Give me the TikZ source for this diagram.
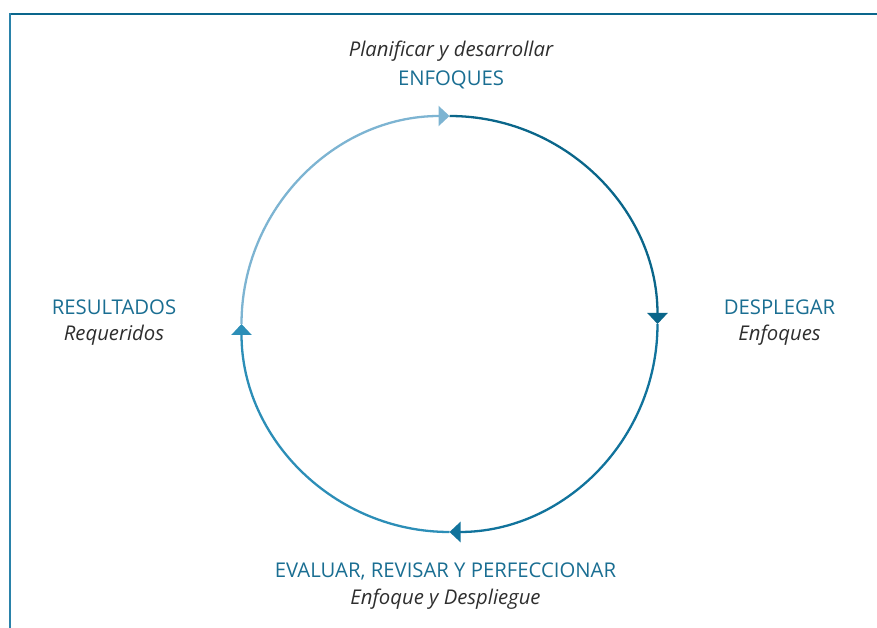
\documentclass[tikz,border=0pt]{standalone}
\usepackage{fontspec}
\setmainfont{Open Sans}
\usetikzlibrary{arrows.meta}
\definecolor{capblue}{HTML}{1A6E92}
\definecolor{txtgray}{HTML}{2E2E2E}
\definecolor{arcA}{HTML}{0A668A}
\definecolor{arcB}{HTML}{11739C}
\definecolor{arcC}{HTML}{2C8EB7}
\definecolor{arcD}{HTML}{7DB4D2}
\definecolor{framedark}{HTML}{0A668C}
\definecolor{frameleft}{HTML}{2A82AA}
\tikzset{
  captext/.style={anchor=base, text=capblue, font=\fontsize{20.3}{23}\selectfont, inner sep=0pt},
  ittext/.style={anchor=base, text=txtgray, font=\fontsize{20.3}{23}\selectfont\itshape, inner sep=0pt},
  cyc/.style={line width=2.3pt, -{Triangle[width=20pt,length=11pt]}},
}
\begin{document}
\begin{tikzpicture}[x=1pt,y=1pt]
\useasboundingbox (0,0) rectangle (877,628);
% frame
\coordinate (ftl) at (10,614);
\coordinate (ftr) at (877,614);
\coordinate (fbl) at (10,0);
\draw[framedark, line width=2.2pt] (9,614) -- (ftr);
\draw[frameleft, line width=2.6pt] (fbl) -- (10,615);
% cycle
\coordinate (c) at (449.5,304);
\coordinate (top) at (449.5,512);
\coordinate (right) at (657.5,304);
\coordinate (bottom) at (449.5,96);
\coordinate (left) at (241.5,304);
\draw[cyc, arcA] (top) arc[start angle=90, end angle=0, radius=208];
\draw[cyc, arcB] (right) arc[start angle=0, end angle=-90, radius=208];
\draw[cyc, arcC] (bottom) arc[start angle=-90, end angle=-180, radius=208];
\draw[cyc, arcD] (left) arc[start angle=180, end angle=90, radius=208];
% labels
\node[ittext] (plan) at (451,571) {Planificar y desarrollar};
\node[captext] (enf) at (451,542) {ENFOQUES};
\node[captext] (desp) at (779.5,313) {DESPLEGAR};
\node[ittext] (enf2) at (779.5,287) {Enfoques};
\node[captext] (res) at (114,313) {RESULTADOS};
\node[ittext] (req) at (114,287) {Requeridos};
\node[captext] (eval) at (445.5,50) {EVALUAR, REVISAR Y PERFECCIONAR};
\node[ittext] (eyd) at (445.5,23) {Enfoque y Despliegue};
\end{tikzpicture}
\end{document}
